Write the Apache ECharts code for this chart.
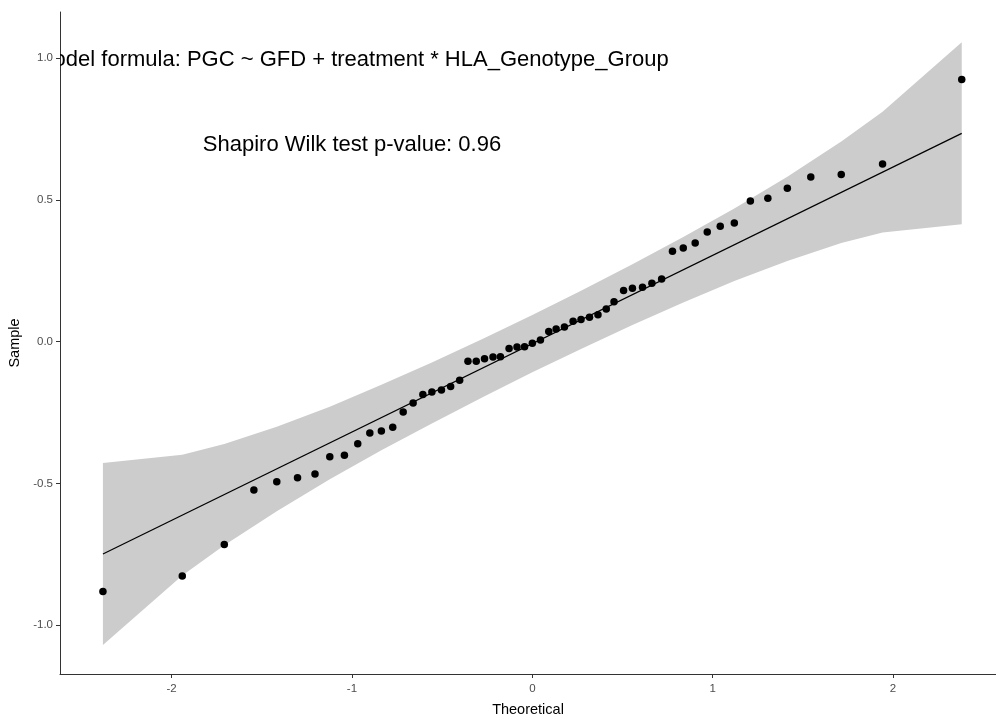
<!DOCTYPE html>
<html>
<head>
<meta charset="utf-8">
<script src="https://cdn.jsdelivr.net/npm/echarts@6/dist/echarts.min.js"></script>
<style>
html,body{margin:0;padding:0;background:#ffffff;}
#c{width:996px;height:717px;}
</style>
</head>
<body>
<div id="c"></div>
<script>
// Theoretical quantiles (x) and sample quantiles (y)
const theoretical = [-2.381,-1.941,-1.708,-1.544,-1.417,-1.302,-1.205,-1.123,-1.042,-0.968,
  -0.901,-0.837,-0.774,-0.716,-0.661,-0.607,-0.557,-0.504,-0.453,-0.403,
  -0.357,-0.311,-0.265,-0.218,-0.177,-0.129,-0.085,-0.043,0.000,0.045,
  0.091,0.132,0.178,0.226,0.270,0.317,0.364,0.410,0.453,0.506,
  0.555,0.611,0.663,0.717,0.777,0.837,0.903,0.970,1.042,1.120,
  1.209,1.306,1.414,1.544,1.713,1.942,2.381];
const sample = [-0.881,-0.826,-0.715,-0.523,-0.494,-0.480,-0.467,-0.406,-0.400,-0.360,
  -0.322,-0.315,-0.302,-0.248,-0.216,-0.186,-0.177,-0.170,-0.158,-0.136,
  -0.069,-0.069,-0.060,-0.054,-0.053,-0.024,-0.019,-0.018,-0.005,0.006,
  0.036,0.045,0.052,0.072,0.078,0.086,0.095,0.115,0.141,0.181,
  0.189,0.192,0.206,0.221,0.319,0.331,0.348,0.387,0.407,0.419,
  0.496,0.506,0.541,0.581,0.590,0.627,0.925];

// Reference line end points
const lineX = [-2.381, 2.381];
const lineY = [-0.749, 0.735];

// Confidence band
const bandX     = [-2.381,-1.941,-1.708,-1.417,-1.123,-0.837,-0.557,-0.265,0.000,0.270,0.555,0.837,1.120,1.414,1.713,1.942,2.381];
const bandUpper = [-0.428,-0.399,-0.361,-0.300,-0.229,-0.152,-0.073,0.013,0.094,0.180,0.273,0.369,0.470,0.582,0.706,0.811,1.056];
const bandLower = [-1.070,-0.825,-0.718,-0.598,-0.485,-0.383,-0.288,-0.192,-0.108,-0.026,0.059,0.138,0.214,0.285,0.348,0.385,0.414];

// Ticks
const xTicks = [-2,-1,0,1,2];
const xTickLabels = ['-2','-1','0','1','2'];
const yTicks = [-1,-0.5,0,0.5,1];
const yTickLabels = ['-1.0','-0.5','0.0','0.5','1.0'];

// Annotations
const annoX = [-1, -1];
const annoY = [1.0, 0.7];
const annoText = ['Model formula: PGC ~ GFD + treatment * HLA_Genotype_Group', 'Shapiro Wilk test p-value: 0.96'];

const FONT = "'Liberation Sans', Arial, Helvetica, sans-serif";

const chart = echarts.init(document.getElementById('c'), null, {renderer:'canvas'});

const option = {
  animation: false,
  backgroundColor: '#ffffff',
  textStyle: {fontFamily: FONT},
  grid: {left: 60, top: 12, right: 0, bottom: 43, containLabel: false, outerBoundsMode: 'none'},
  xAxis: {
    type: 'value',
    min: -2.619, max: 2.571,
    name: 'Theoretical',
    nameLocation: 'middle',
    nameGap: 28,
    nameTextStyle: {color: '#000000', fontSize: 14.5, fontFamily: FONT},
    axisLine: {show: true, onZero: false, lineStyle: {color: '#333333', width: 1}},
    axisTick: {show: true, length: 4, lineStyle: {color: '#333333', width: 1}, customValues: xTicks},
    axisLabel: {color: '#4d4d4d', fontSize: 11.5, margin: 9, fontFamily: FONT, customValues: xTicks,
      formatter: function (v) { const i = xTicks.indexOf(v); return i >= 0 ? xTickLabels[i] : ''; }},
    splitLine: {show: false}
  },
  yAxis: {
    type: 'value',
    min: -1.172, max: 1.163,
    name: 'Sample',
    nameLocation: 'middle',
    nameGap: 33,
    nameTextStyle: {color: '#000000', fontSize: 14.5, fontFamily: FONT},
    axisLine: {show: true, onZero: false, lineStyle: {color: '#333333', width: 1}},
    axisTick: {show: true, length: 4, lineStyle: {color: '#333333', width: 1}, customValues: yTicks},
    axisLabel: {color: '#4d4d4d', fontSize: 11.5, margin: 7, fontFamily: FONT, customValues: yTicks,
      formatter: function (v) { const i = yTicks.findIndex(t => Math.abs(t - v) < 1e-9); return i >= 0 ? yTickLabels[i] : ''; }},
    splitLine: {show: false}
  },
  series: [
    {
      type: 'custom',
      name: 'band',
      silent: true,
      z: 1,
      clip: true,
      data: bandX.map((x, i) => [x, bandLower[i], bandUpper[i]]),
      encode: {x: 0, y: [1, 2]},
      renderItem: function (params, api) {
        if (params.dataIndex !== 0) return null;
        const pts = [];
        for (let i = 0; i < bandX.length; i++) pts.push(api.coord([bandX[i], bandUpper[i]]));
        for (let i = bandX.length - 1; i >= 0; i--) pts.push(api.coord([bandX[i], bandLower[i]]));
        return {type: 'polygon', shape: {points: pts}, style: {fill: '#cccccc', stroke: null}};
      }
    },
    {
      type: 'line',
      name: 'qqline',
      silent: true,
      z: 3,
      showSymbol: false,
      symbol: 'none',
      data: lineX.map((x, i) => [x, lineY[i]]),
      lineStyle: {color: '#000000', width: 1.2}
    },
    {
      type: 'scatter',
      name: 'points',
      silent: true,
      z: 4,
      symbol: 'circle',
      symbolSize: 7.5,
      itemStyle: {color: '#000000', opacity: 1},
      data: theoretical.map((x, i) => [x, sample[i]])
    },
    {
      type: 'custom',
      name: 'annotations',
      silent: true,
      z: 5,
      clip: true,
      data: annoX.map((x, i) => [x, annoY[i]]),
      encode: {x: 0, y: 1},
      renderItem: function (params, api) {
        const p = api.coord([api.value(0), api.value(1)]);
        return {
          type: 'text',
          x: p[0], y: p[1] + 2,
          style: {
            text: annoText[params.dataIndex],
            fill: '#000000',
            font: '22px ' + FONT,
            textAlign: 'center',
            textVerticalAlign: 'middle',
            align: 'center',
            verticalAlign: 'middle'
          }
        };
      }
    }
  ]
};
chart.setOption(option);
</script>
</body>
</html>
